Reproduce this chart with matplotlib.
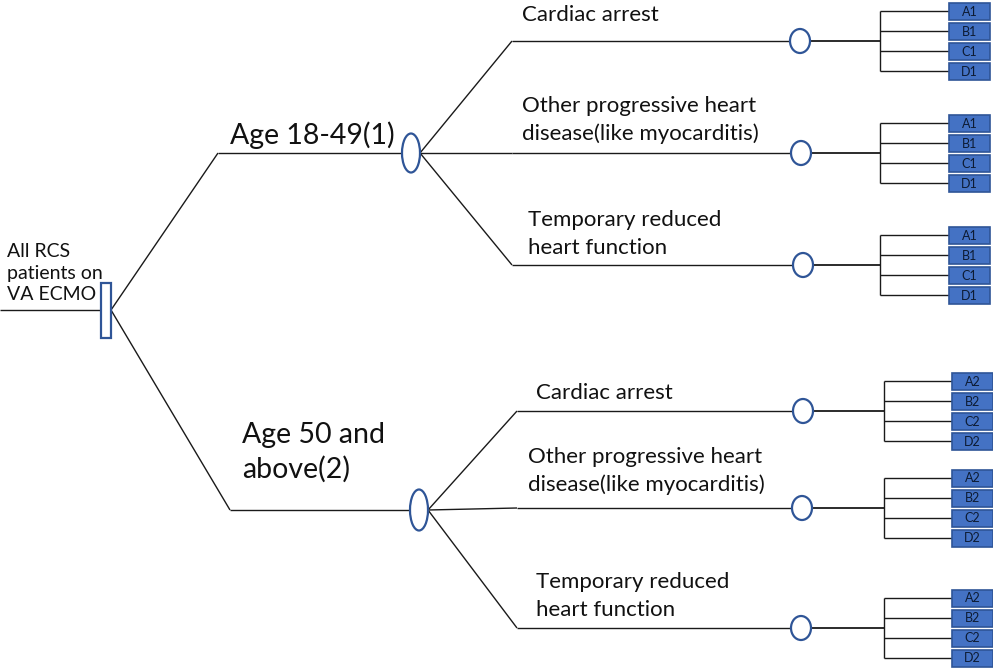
"""Decision tree: RCS patients on VA ECMO, split by age then by diagnosis."""
import matplotlib.pyplot as plt
from matplotlib.patches import Ellipse, Rectangle

# ---------------------------------------------------------------------------
# Content
# ---------------------------------------------------------------------------
root_label = "All RCS\npatients on\nVA ECMO"
age_groups = ["Age 18-49(1)", "Age 50 and\nabove(2)"]
group_codes = ["1", "2"]
conditions = [
    "Cardiac arrest",
    "Other progressive heart\ndisease(like myocarditis)",
    "Temporary reduced\nheart function",
]
outcomes = ["A", "B", "C", "D"]

# ---------------------------------------------------------------------------
# Layout (pixel coordinates, y downwards)
# ---------------------------------------------------------------------------
W, H = 993, 668
ROOT = {"x": 106, "y": 310, "w": 10, "h": 55}
AGE_LAYOUT = [
    {"bend": (218, 153), "node": (411, 153), "node_wh": (18, 39),
     "label": (230, 135), "cond_x": 512, "cond_y": [41, 153, 265],
     "leaf_node_x": [800, 801, 803], "fork_x": 880, "box_x": 949,
     "cond_label": [(522, 15), (522, 120), (528, 234)]},
    {"bend": (230, 510), "node": (419, 510), "node_wh": (18, 41),
     "label": (242, 452), "cond_x": 517, "cond_y": [411, 508, 628],
     "leaf_node_x": [803, 802, 801], "fork_x": 884, "box_x": 952,
     "cond_label": [(536, 393), (528, 471), (536, 596)]},
]
LEAF_NODE_WH = (20, 24)
BOX_W, BOX_H, BOX_STEP = 41, 17, 20

STYLE = {
    "line": "#1a1a1a",
    "node_edge": "#2F5597",
    "box_fill": "#4472C4",
    "box_edge": "#2F5597",
    "box_text": "#0d1b33",
    "font": ["Lato", "DejaVu Sans"],
}


def line(ax, p, q, lw=1.0):
    ax.plot([p[0], q[0]], [p[1], q[1]], color=STYLE["line"], lw=lw,
            solid_capstyle="butt", zorder=1)


def main():
    plt.rcParams["font.family"] = STYLE["font"]
    fig = plt.figure(figsize=(W / 100, H / 100), dpi=100)
    ax = fig.add_axes([0, 0, 1, 1])
    ax.set_xlim(0, W)
    ax.set_ylim(H, 0)
    ax.axis("off")

    # Root node
    line(ax, (0, ROOT["y"]), (ROOT["x"] - ROOT["w"] / 2, ROOT["y"]))
    ax.add_patch(Rectangle((ROOT["x"] - ROOT["w"] / 2, ROOT["y"] - ROOT["h"] / 2),
                           ROOT["w"], ROOT["h"], facecolor="white",
                           edgecolor=STYLE["node_edge"], lw=1.6, zorder=3))
    ax.text(7, 273, root_label, fontsize=14, ha="left", va="center",
            linespacing=1.3, color="#111111", zorder=2)
    root_right = (ROOT["x"] + ROOT["w"] / 2, ROOT["y"])

    for g, (age, code, lay) in enumerate(zip(age_groups, group_codes, AGE_LAYOUT)):
        bx, by = lay["bend"]
        nx, ny = lay["node"]
        nw, nh = lay["node_wh"]
        line(ax, root_right, (bx, by))
        line(ax, (bx, by), (nx - nw / 2, ny))
        ax.add_patch(Ellipse((nx, ny), nw, nh, facecolor="white",
                             edgecolor=STYLE["node_edge"], lw=1.6, zorder=3))
        ax.text(lay["label"][0], lay["label"][1], age, fontsize=20.5,
                ha="left", va="center", linespacing=1.36, color="#111111")

        for c, cond in enumerate(conditions):
            cy = lay["cond_y"][c]
            cx = lay["cond_x"]
            line(ax, (nx + nw / 2, ny), (cx, cy))
            lx = lay["leaf_node_x"][c]
            line(ax, (cx, cy), (lx - LEAF_NODE_WH[0] / 2, cy))
            ax.add_patch(Ellipse((lx, cy), *LEAF_NODE_WH, facecolor="white",
                                 edgecolor=STYLE["node_edge"], lw=1.6, zorder=3))
            fx = lay["fork_x"]
            line(ax, (lx + LEAF_NODE_WH[0] / 2, cy), (fx, cy), lw=1.3)

            tx, ty = lay["cond_label"][c]
            ax.text(tx, ty, cond, fontsize=16, ha="left", va="center",
                    linespacing=1.5, color="#111111")

            # Outcome boxes
            top = cy - 1.5 * BOX_STEP
            ys = [top + k * BOX_STEP for k in range(len(outcomes))]
            line(ax, (fx, ys[0]), (fx, ys[-1]))
            for yk, out in zip(ys, outcomes):
                line(ax, (fx, yk), (lay["box_x"], yk))
                ax.add_patch(Rectangle((lay["box_x"], yk - BOX_H / 2), BOX_W, BOX_H,
                                       facecolor=STYLE["box_fill"],
                                       edgecolor=STYLE["box_edge"], lw=1.2, zorder=3))
                ax.text(lay["box_x"] + BOX_W / 2, yk + 0.5, out + code, fontsize=9,
                        ha="center", va="center", color=STYLE["box_text"], zorder=4)

    fig.savefig("out.png", dpi=100)
    plt.close(fig)


if __name__ == "__main__":
    main()
